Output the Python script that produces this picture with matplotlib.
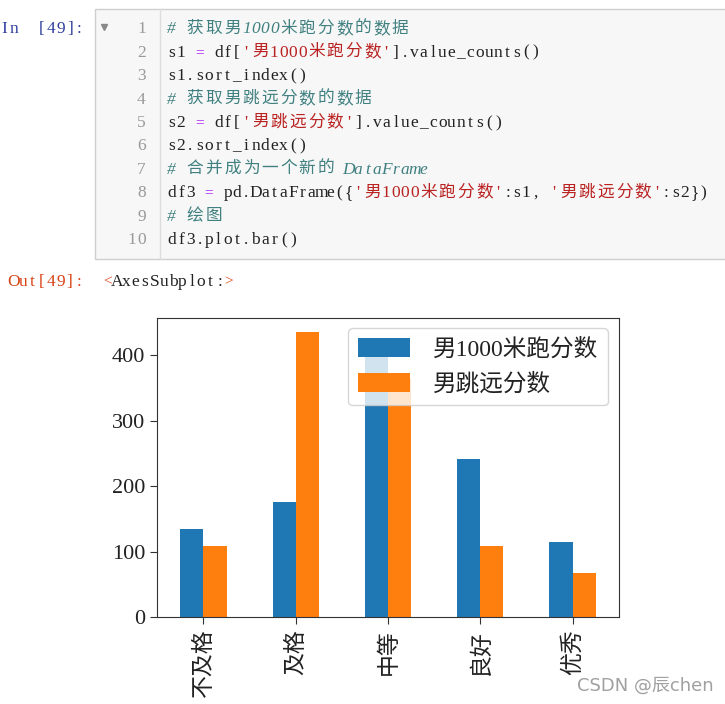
import matplotlib
matplotlib.use('Agg')
import matplotlib.pyplot as plt
from matplotlib.patches import Rectangle

# data
categories = ['不及格', '及格', '中等', '良好', '优秀']
run_1000 = [135, 176, 400, 241, 114]
long_jump = [108, 436, 364, 108, 68]
series_names = ['男1000米跑分数', '男跳远分数']

# notebook cell text
K, OP, S, C = '#222222', '#AA22FF', '#BA2121', '#408080'
code_lines = [
    [('# 获取男1000米跑分数的数据', C)],
    [('s1 ', K), ('=', OP), (' df[', K), ("'男1000米跑分数'", S), ('].value_counts()', K)],
    [('s1.sort_index()', K)],
    [('# 获取男跳远分数的数据', C)],
    [('s2 ', K), ('=', OP), (' df[', K), ("'男跳远分数'", S), ('].value_counts()', K)],
    [('s2.sort_index()', K)],
    [('# 合并成为一个新的 DataFrame', C)],
    [('df3 ', K), ('=', OP), (' pd.DataFrame({', K), ("'男1000米跑分数'", S), (':s1, ', K),
     ("'男跳远分数'", S), (':s2})', K)],
    [('# 绘图', C)],
    [('df3.plot.bar()', K)],
]

W, H = 725, 704
fig = plt.figure(figsize=(W / 100, H / 100), dpi=100)


def fx(x):
    return x / W


def fy(y):
    return 1 - y / H


def is_cjk(ch):
    return ord(ch) > 0x2e80


CW = 9.33
FS = 12.5


def draw_code(x0, y, segs):
    # monospace grid, latin = 1 cell, CJK = 2 cells
    x = x0
    for txt, col in segs:
        style = 'italic' if col == C else 'normal'
        for ch in txt:
            w = 2 * CW if is_cjk(ch) else CW
            if ch != ' ':
                if is_cjk(ch):
                    fig.text(fx(x + w / 2), fy(y), ch, ha='center', va='center',
                             fontsize=12, family='Noto Sans CJK SC', color=col)
                else:
                    fs = 11 if ch in '<>=' else FS
                    fig.text(fx(x + w / 2), fy(y + 1), ch, ha='center', va='center',
                             fontsize=fs, family='Liberation Serif', color=col, style=style)
            x += w
    return x


# code cell box
fig.patches.append(Rectangle((fx(95), fy(259)), fx(640), (259 - 8.5) / H,
                             transform=fig.transFigure, facecolor='#f7f7f7',
                             edgecolor='#cfcfcf', linewidth=1))
fig.add_artist(plt.Line2D([fx(159.5), fx(159.5)], [fy(9), fy(258.5)],
                          transform=fig.transFigure, color='#dddddd', linewidth=1))
fig.add_artist(plt.Line2D([fx(104)], [fy(27)], transform=fig.transFigure,
                          marker='v', markersize=4, color='#888888', linestyle='none'))

draw_code(0, 28, [('In  [49]:', '#303F9F')])
for i, segs in enumerate(code_lines):
    y = 28.3 + i * 23.4
    num = str(i + 1)
    draw_code(146 - CW * len(num), y, [(num, '#999999')])
    draw_code(167, y, segs)

draw_code(9, 281, [('Out[49]:', '#D84315')])
draw_code(103, 281, [('<', '#D84315'), ('AxesSubplot:', K), ('>', '#D84315')])

# chart
ax = fig.add_axes([157.3 / W, (H - 617) / H, 461.4 / W, 299.3 / H])
pos = list(range(len(categories)))
ax.bar([p - 0.125 for p in pos], run_1000, width=0.25, color='#1f77b4', label=series_names[0])
ax.bar([p + 0.125 for p in pos], long_jump, width=0.25, color='#ff7f0e', label=series_names[1])
ax.set_xlim(-0.5, 4.5)
ax.set_xticks(pos)
ax.set_xticklabels(categories, rotation=90, fontsize=16.5, family=['Noto Sans CJK SC'],
                   color='#222222')
ax.set_yticks([0, 100, 200, 300, 400])
ax.set_yticklabels(['0', '100', '200', '300', '400'], fontsize=16,
                   family=['Liberation Serif'], color='#222222')
ax.tick_params(length=5, color='#333333')
for sp in ax.spines.values():
    sp.set_color('#333333')
leg = ax.legend(loc='upper right', prop={'family': ['Liberation Serif', 'Noto Sans CJK SC'], 'size': 17},
                handlelength=2.2, handleheight=0.85, borderpad=0.4, labelspacing=0.55,
                handletextpad=1.0, borderaxespad=0.45)
for t in leg.get_texts():
    t.set_color('#222222')

fig.text(fx(577), fy(686), 'CSDN @辰chen', ha='left', va='center', fontsize=13,
         family=['DejaVu Sans', 'Noto Sans CJK SC'], color='#a0a0a0')

fig.savefig('out.png', dpi=100)
